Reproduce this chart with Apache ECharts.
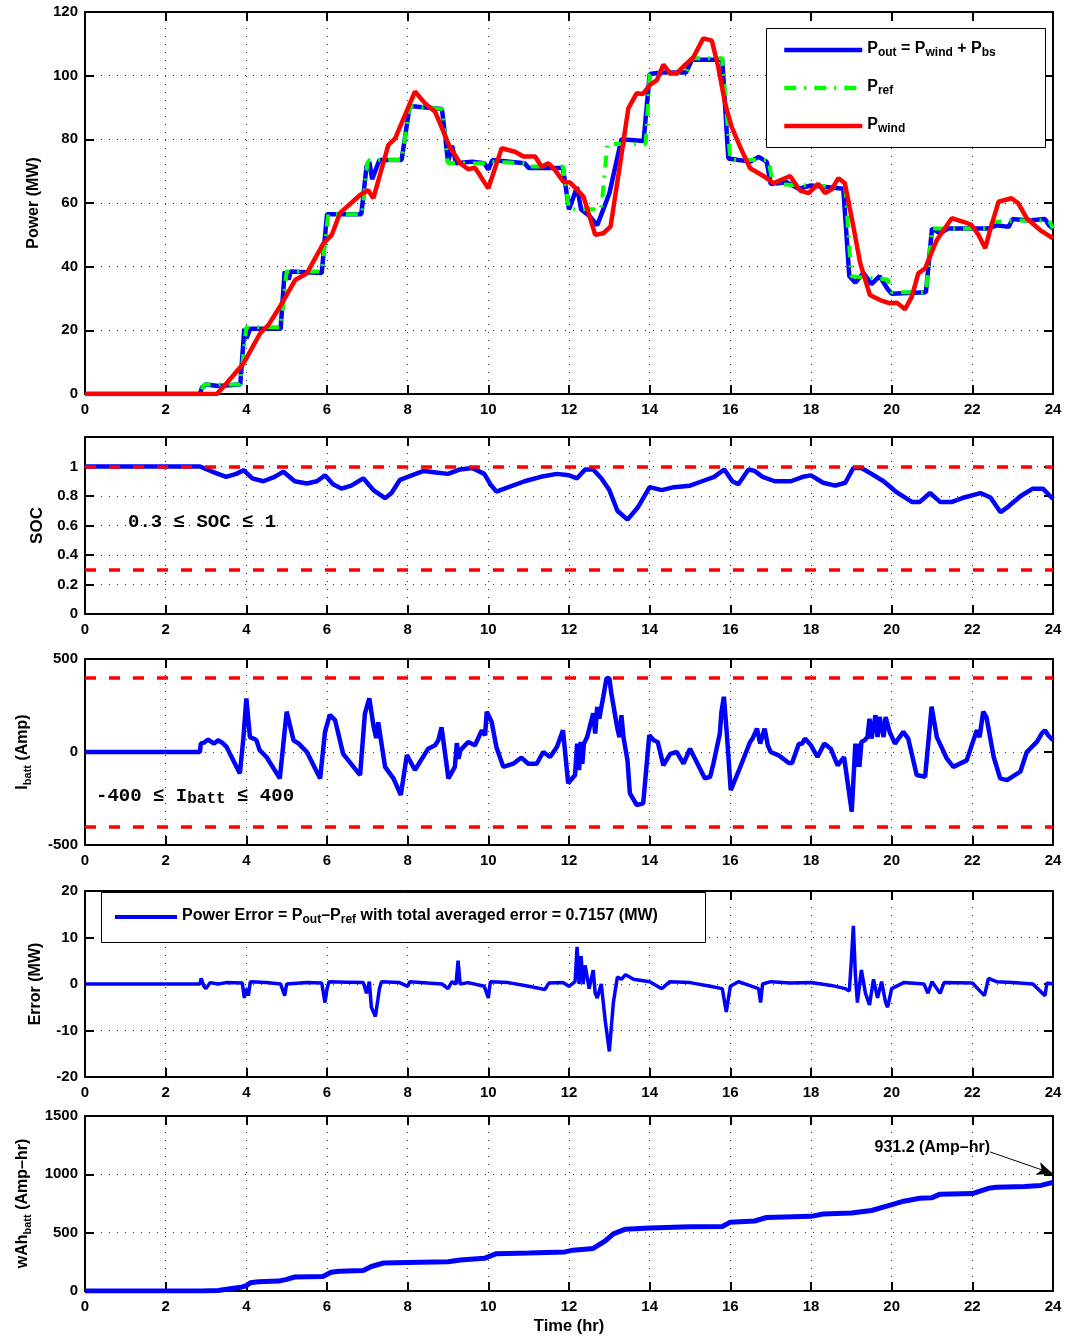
<!DOCTYPE html>
<html><head><meta charset="utf-8">
<script src="https://cdn.jsdelivr.net/npm/echarts/dist/echarts.min.js"></script>
<style>html,body{margin:0;padding:0;background:#fff}#c{width:1070px;height:1341px}</style>
</head><body><div id="c"></div><script>
// ---------------- data (hour, value) ----------------
const pRefData = [[0,0],[2.85,0],[2.95,3],[3.85,3],[4.0,21],[4.85,21],[5.0,38.5],[5.87,38.5],[6.03,56.5],[6.87,56.5],[7.0,72.5],[7.05,73.5],[7.85,73.5],[8.05,90.5],[8.85,89.5],[9.0,72.5],[10.0,72.5],[10.05,73],[10.95,72.5],[11.0,71.5],[11.85,71.5],[12.0,58],[12.8,58],[12.95,78.5],[13.9,78.5],[14.0,100.5],[14.9,101],[15.05,105.5],[15.8,105.5],[16.0,73.5],[16.95,73.5],[17.05,66],[18.85,65],[19.0,37],[19.9,36],[20.0,32],[20.85,32],[21.0,52],[22.4,52],[22.5,54],[23.2,54.5],[23.9,54.5],[24,52]];
const pOutData = [[0,0],[2.85,0],[2.9,2],[3.0,3],[3.3,2.5],[3.85,3],[3.95,20.5],[4.0,17.5],[4.1,20.5],[4.85,20.5],[4.95,38.5],[5.05,36],[5.1,38.5],[5.87,38],[6.0,56.5],[6.85,56.5],[6.98,71.5],[7.05,73],[7.12,67.5],[7.3,73.5],[7.85,73.5],[8.05,90.5],[8.85,89.5],[9.0,73],[9.1,78],[9.2,72.5],[9.6,73],[9.9,72.5],[10.0,70.5],[10.1,73.5],[10.9,72.5],[11.0,71],[11.85,71],[12.0,58],[12.2,65],[12.3,58],[12.5,56],[12.7,53],[12.85,58],[13.0,63],[13.3,80],[13.85,79.5],[14.0,100.5],[14.3,101],[14.9,101],[15.05,105],[15.8,105],[15.95,74],[16.2,73.5],[16.5,73],[16.7,74.5],[16.9,73],[17.0,66],[17.4,66.5],[17.7,64.5],[18.0,65.5],[18.8,64.5],[18.95,37],[19.1,35],[19.3,38],[19.5,34.5],[19.7,37],[19.9,33],[20.0,31.5],[20.85,32],[21.0,52],[21.2,50.5],[21.4,52],[22.4,52],[22.6,53],[22.9,52.5],[23.0,55],[23.4,54.5],[23.8,55],[23.9,53],[24,52]];
const pWindData = [[0,0],[3.27,0],[3.51,3.4],[3.93,9.6],[4.34,19],[4.55,21.7],[4.83,27.4],[5.21,35.8],[5.5,37.9],[5.91,47.3],[6.12,50],[6.32,56.8],[6.82,62.5],[7.02,64],[7.15,61.5],[7.52,78.2],[7.69,80.3],[8.18,95],[8.43,91.3],[8.68,88.7],[9.03,78],[9.3,72.5],[9.5,70.6],[9.67,71.1],[10.0,64.6],[10.33,77.2],[10.66,76.1],[10.87,74.6],[11.16,74.6],[11.32,71.4],[11.49,72.5],[11.65,70.4],[11.86,66.7],[12.03,66.4],[12.36,62],[12.65,50],[12.85,50.5],[13.03,52.6],[13.27,72.5],[13.47,89.7],[13.68,94.5],[13.83,94.2],[14.01,97.1],[14.18,98.6],[14.34,103.5],[14.51,100.7],[14.67,100.7],[14.88,103.4],[15.08,105.7],[15.33,111.7],[15.54,111],[15.7,102.8],[15.87,91.3],[16.03,84],[16.24,77.7],[16.49,70.9],[16.82,68.5],[17.07,66.2],[17.48,68.5],[17.73,63.9],[17.94,63.1],[18.18,66],[18.35,63.1],[18.51,64.3],[18.68,67.8],[18.84,66.2],[19.05,52.6],[19.22,41.1],[19.46,31.1],[19.71,29.5],[19.96,28.5],[20.13,28.7],[20.33,26.6],[20.5,30.6],[20.66,37.9],[20.83,39.5],[21.12,48.4],[21.49,55.2],[21.78,54.1],[21.98,53.1],[22.15,50],[22.32,45.8],[22.44,51.5],[22.65,60.4],[22.97,61.5],[23.14,59.9],[23.35,55.2],[23.68,51.5],[24,48.9]];
const socData = [[0,1],[2.85,1],[3.2,0.96],[3.5,0.93],[3.75,0.95],[3.93,0.975],[4.15,0.92],[4.42,0.9],[4.7,0.93],[4.92,0.965],[5.2,0.9],[5.5,0.885],[5.75,0.9],[5.95,0.94],[6.15,0.88],[6.36,0.85],[6.6,0.87],[6.9,0.92],[7.15,0.84],[7.44,0.785],[7.6,0.82],[7.81,0.91],[8.1,0.94],[8.4,0.97],[8.7,0.96],[9.0,0.95],[9.3,0.98],[9.6,0.99],[9.9,0.95],[10.05,0.88],[10.2,0.83],[10.5,0.86],[10.9,0.9],[11.3,0.93],[11.7,0.95],[12.0,0.94],[12.2,0.92],[12.4,0.98],[12.6,0.98],[12.8,0.92],[13.0,0.84],[13.2,0.7],[13.45,0.64],[13.7,0.72],[14.0,0.86],[14.3,0.84],[14.6,0.86],[15.0,0.87],[15.3,0.9],[15.6,0.93],[15.85,0.98],[16.05,0.9],[16.2,0.88],[16.45,0.98],[16.6,0.97],[16.8,0.93],[17.1,0.9],[17.5,0.9],[17.8,0.93],[18.0,0.94],[18.3,0.89],[18.6,0.87],[18.85,0.89],[19.05,0.99],[19.25,0.99],[19.5,0.95],[19.8,0.9],[20.1,0.83],[20.5,0.76],[20.7,0.76],[20.95,0.82],[21.2,0.76],[21.5,0.76],[21.8,0.79],[22.2,0.82],[22.45,0.79],[22.7,0.69],[22.9,0.73],[23.2,0.8],[23.5,0.85],[23.75,0.85],[24,0.78]];
const socLimits = [0.3, 1];
const iBattData = [[0,0],[2.85,0],[2.87,45],[2.95,50],[3.05,67],[3.2,45],[3.3,63],[3.4,50],[3.51,27],[3.84,-115],[3.93,80],[4.0,288],[4.09,80],[4.2,70],[4.25,63],[4.33,10],[4.5,-27],[4.83,-142],[5.0,217],[5.17,63],[5.3,45],[5.5,0],[5.83,-142],[5.95,108],[6.07,199],[6.2,172],[6.4,-10],[6.82,-124],[6.94,207],[7.05,288],[7.15,143],[7.22,75],[7.27,160],[7.44,-80],[7.65,-143],[7.83,-231],[7.98,-16],[8.18,-97],[8.51,18],[8.68,36],[8.76,63],[8.84,133],[9.01,-142],[9.17,-80],[9.22,48],[9.26,-36],[9.31,10],[9.5,54],[9.67,36],[9.84,117],[9.92,90],[9.96,217],[10.08,163],[10.2,27],[10.37,-80],[10.62,-63],[10.82,-30],[10.99,-63],[11.2,-63],[11.36,0],[11.53,-27],[11.7,27],[11.85,117],[11.98,-168],[12.15,-124],[12.2,45],[12.25,-97],[12.29,54],[12.33,-63],[12.37,45],[12.45,80],[12.6,208],[12.65,99],[12.7,243],[12.75,180],[12.85,297],[12.93,396],[13.0,396],[13.05,315],[13.2,126],[13.25,80],[13.3,198],[13.35,80],[13.45,-45],[13.51,-222],[13.68,-285],[13.84,-276],[13.99,90],[14.1,63],[14.2,54],[14.34,-72],[14.51,-10],[14.67,0],[14.84,-63],[15.0,18],[15.37,-142],[15.5,-133],[15.58,-63],[15.74,99],[15.78,217],[15.84,297],[15.91,108],[16.01,-205],[16.2,-106],[16.49,54],[16.55,72],[16.66,126],[16.74,45],[16.85,126],[16.93,36],[17.0,0],[17.2,-18],[17.45,-59],[17.53,-59],[17.7,45],[17.78,45],[17.85,72],[18.0,36],[18.16,-27],[18.33,45],[18.49,18],[18.66,-72],[18.82,-27],[19.01,-321],[19.1,45],[19.14,-80],[19.17,45],[19.2,-80],[19.25,54],[19.33,63],[19.4,80],[19.45,179],[19.5,72],[19.6,198],[19.65,80],[19.7,188],[19.8,80],[19.85,188],[19.95,108],[20.08,45],[20.29,108],[20.41,72],[20.62,-124],[20.83,-133],[20.99,244],[21.12,80],[21.37,-36],[21.53,-80],[21.86,-45],[22.11,117],[22.18,80],[22.27,217],[22.35,188],[22.53,-27],[22.69,-142],[22.86,-151],[23.19,-106],[23.35,0],[23.6,54],[23.72,99],[23.8,117],[23.88,90],[24,63]];
const iLimits = [-400, 400];
const errData = [[0,0],[2.85,0],[2.88,1.2],[2.95,-0.5],[3.0,-1],[3.1,0.3],[3.3,0],[3.5,0.3],[3.9,0.2],[3.95,-3],[4.0,-1],[4.05,-2.5],[4.1,0.5],[4.5,0.3],[4.85,0],[4.95,-2.5],[5.0,0],[5.5,0.3],[5.87,0.2],[5.95,-4],[6.0,-1],[6.05,0.5],[6.5,0.4],[6.9,0.3],[6.98,-2],[7.05,0.5],[7.1,-5],[7.2,-7],[7.3,-1],[7.35,0.5],[7.8,0.3],[8.0,-0.5],[8.05,0.5],[8.5,0.2],[8.85,0],[9.0,-1],[9.1,0.5],[9.2,0],[9.25,5],[9.3,0],[9.5,0.3],[9.9,-0.5],[10.0,-3],[10.05,0.5],[10.5,0.3],[11.0,-0.5],[11.4,-1.2],[11.5,0.2],[11.85,0.3],[12.0,-0.5],[12.15,0.5],[12.2,8],[12.25,0],[12.3,6],[12.35,0],[12.4,4],[12.5,-1],[12.6,3],[12.65,-2],[12.7,-3],[12.8,0],[12.9,-8],[13.0,-14.5],[13.1,-4],[13.2,1.5],[13.3,1],[13.4,2],[13.6,1],[14.0,0.5],[14.3,-1],[14.5,0.5],[15.0,0.3],[15.5,-0.5],[15.8,-1],[15.9,-6],[16.0,-0.5],[16.2,0.5],[16.7,-1],[16.75,-4],[16.8,0],[17.0,0.5],[17.5,0.2],[18.0,0.3],[18.5,-0.3],[18.85,-1],[18.95,-1.5],[19.0,5],[19.05,12.5],[19.1,2],[19.15,-4],[19.25,3],[19.35,-2],[19.45,-4.5],[19.55,1],[19.65,-3],[19.75,0.5],[19.85,-4],[19.9,-5],[20.0,-1],[20.3,0.3],[20.8,0],[20.9,-2],[21.0,0.5],[21.2,-2],[21.3,0.3],[22.0,0.2],[22.3,-2.5],[22.4,1.2],[22.6,0.5],[23.0,0.3],[23.5,0],[23.8,-2.5],[23.85,0.2],[24,0]];
const wAhData = [[0,0],[2.9,0],[3.3,5],[3.6,20],[3.9,35],[4.0,45],[4.1,70],[4.3,80],[4.8,85],[5.0,100],[5.2,120],[5.9,125],[6.1,160],[6.3,170],[6.9,175],[7.1,210],[7.4,240],[8.0,245],[9.0,250],[9.3,265],[9.9,280],[10.2,320],[11.0,325],[11.9,335],[12.1,350],[12.6,365],[12.9,430],[13.1,490],[13.4,530],[14.0,540],[15.0,550],[15.8,553],[16.0,590],[16.6,600],[16.9,630],[18.0,640],[18.3,660],[19.0,668],[19.5,690],[19.9,730],[20.3,770],[20.7,795],[21.0,800],[21.2,830],[22.0,835],[22.4,880],[22.6,890],[23.3,895],[23.7,905],[24,931.2]];
const wAhFinal = 931.2;
const avgError = 0.7157;
const hourTicks = {min: 0, max: 24, interval: 2};
const yScales = [
  {min: 0, max: 120, interval: 20},
  {min: 0, max: 1.2, interval: 0.2},
  {min: -500, max: 500, interval: 500},
  {min: -20, max: 20, interval: 10},
  {min: 0, max: 1500, interval: 500}
];

// ---------------- layout ----------------
const FONT = '"Liberation Sans", Arial, sans-serif';
const MONO = '"Liberation Mono", "DejaVu Sans Mono", monospace';
const grids = [
  {left: 85, right: 17, top: 12, height: 382},
  {left: 85, right: 17, top: 437, height: 177},
  {left: 85, right: 17, top: 659, height: 186},
  {left: 85, right: 17, top: 891, height: 186},
  {left: 85, right: 17, top: 1116, height: 175}
];
const subRich = {
  m: {fontFamily: FONT, fontWeight: 'bold', fontSize: 16, color: '#000', lineHeight: 18, verticalAlign: 'top'},
  s: {fontFamily: FONT, fontWeight: 'bold', fontSize: 11, color: '#000', lineHeight: 11, padding: [12, 0, 0, 0], verticalAlign: 'bottom'}
};
const yNames = [
  {name: 'Power (MW)', gap: 41},
  {name: 'SOC', gap: 38},
  {name: '{m|I}{s|batt}{m| (Amp)}', gap: 52},
  {name: 'Error (MW)', gap: 41},
  {name: '{m|wAh}{s|batt}{m| (Amp\u2013hr)}', gap: 52}
];

const xAxes = [], yAxes = [];
grids.forEach((g, i) => {
  const axLine = {show: true, onZero: false, lineStyle: {color: '#000', width: 2}};
  const tick = {show: true, inside: true, length: 9, lineStyle: {color: '#000', width: 2}};
  const split = {show: true, lineStyle: {color: '#333', type: [1, 7], width: 1}};
  const lbl = {color: '#000', fontFamily: FONT, fontWeight: 'bold', fontSize: 15, formatter: v => String(v)};
  xAxes.push(Object.assign({type: 'value', gridIndex: i, position: 'bottom', axisLine: axLine, axisTick: tick,
    axisLabel: Object.assign({margin: 8, showMinLabel: true, showMaxLabel: true}, lbl), splitLine: split},
    hourTicks, i === 4 ? {name: 'Time (hr)', nameLocation: 'middle', nameGap: 27,
      nameTextStyle: {fontFamily: FONT, fontWeight: 'bold', fontSize: 16.5, color: '#000'}} : {}));
  xAxes.push(Object.assign({type: 'value', gridIndex: i, position: 'top', axisLine: axLine, axisTick: tick,
    axisLabel: {show: false}, splitLine: {show: false}}, hourTicks));
  yAxes.push(Object.assign({type: 'value', gridIndex: i, position: 'left', axisLine: axLine, axisTick: tick,
    axisLabel: Object.assign({margin: 7, showMaxLabel: i !== 1}, lbl), splitLine: split,
    name: yNames[i].name, nameLocation: 'middle', nameRotate: 90, nameGap: yNames[i].gap,
    nameTextStyle: {fontFamily: FONT, fontWeight: 'bold', fontSize: i === 1 ? 17 : 16, color: '#000', rich: subRich}}, yScales[i]));
  yAxes.push(Object.assign({type: 'value', gridIndex: i, position: 'right', axisLine: axLine, axisTick: tick,
    axisLabel: {show: false}, splitLine: {show: false}}, yScales[i]));
});

const limitLine = (vals) => ({
  silent: true, symbol: 'none', label: {show: false},
  lineStyle: {color: '#ff0000', width: 3.5, type: [11, 13]},
  data: vals.map(v => ({yAxis: v}))
});

const line = (name, gi, data, color, width, extra) => Object.assign({
  name: name, type: 'line', xAxisIndex: gi * 2, yAxisIndex: gi * 2, data: data,
  symbol: 'none', showSymbol: false, animation: false,
  lineStyle: {color: color, width: width}, itemStyle: {color: color}
}, extra || {});

const series = [
  line('Pout', 0, pOutData, '#0000ff', 4.5, {z: 2}),
  line('Pref', 0, pRefData, '#00ff00', 4, {z: 3, lineStyle: {color: '#00ff00', width: 4, type: [12, 8, 2, 8]}}),
  line('Pwind', 0, pWindData, '#ff0000', 4.5, {z: 4}),
  line('SOC', 1, socData, '#0000ff', 4.5, {markLine: limitLine(socLimits)}),
  line('Ibatt', 2, iBattData, '#0000ff', 4.5, {markLine: limitLine(iLimits)}),
  line('Power Error', 3, errData, '#0000ff', 3.5),
  line('wAh', 4, wAhData, '#0000ff', 5, {
    markLine: {silent: true, symbol: ['none', 'arrow'], symbolSize: [10, 16], label: {show: false},
      lineStyle: {color: '#000', width: 1, type: 'solid'},
      data: [[{coord: [22.44, 1192]}, {coord: [24, 1005]}]]},
    markPoint: {silent: true, symbol: 'circle', symbolSize: 0,
      data: [{coord: [22.44, 1226], label: {show: true, position: 'left', distance: 0,
        formatter: wAhFinal.toFixed(1) + ' (Amp\u2013hr)', fontFamily: FONT, fontWeight: 'bold', fontSize: 16, color: '#000'}}]}
  })
];

const legRich = {
  m: {fontFamily: FONT, fontWeight: 'bold', fontSize: 16, color: '#000', lineHeight: 18, verticalAlign: 'top'},
  s: {fontFamily: FONT, fontWeight: 'bold', fontSize: 12, color: '#000', lineHeight: 12, padding: [13, 0, 0, 0], verticalAlign: 'bottom'}
};
const legRich2 = {
  m: {fontFamily: FONT, fontWeight: 'bold', fontSize: 16, color: '#000', lineHeight: 18, verticalAlign: 'top'},
  s: {fontFamily: FONT, fontWeight: 'bold', fontSize: 12, color: '#000', lineHeight: 12, padding: [12, 0, 0, 0], verticalAlign: 'bottom'}
};
const legendNames = {
  Pout: '{m|P}{s|out}{m| = P}{s|wind}{m| + P}{s|bs}',
  Pref: '{m|P}{s|ref}',
  Pwind: '{m|P}{s|wind}'
};
const hiddenSymbol = {color: 'rgba(0,0,0,0)', borderColor: 'rgba(0,0,0,0)', borderWidth: 0, opacity: 0};

const option = {
  backgroundColor: '#fff',
  animation: false,
  grid: grids,
  xAxis: xAxes,
  yAxis: yAxes,
  series: series,
  legend: [
    {data: ['Pout', 'Pref', 'Pwind'], orient: 'vertical', left: 782, top: 34, padding: 0, itemWidth: 78, itemHeight: 14,
      itemGap: 13, selectedMode: false, z: 10, formatter: n => legendNames[n],
      textStyle: {rich: legRich}, lineStyle: {width: 4.5}, itemStyle: hiddenSymbol},
    {data: ['Power Error'], orient: 'horizontal', left: 113, top: 902, padding: 0, itemWidth: 62, itemHeight: 14,
      selectedMode: false, z: 10,
      formatter: () => '{m|Power Error = P}{s|out}{m|\u2013P}{s|ref}{m| with total averaged error = ' + avgError + ' (MW)}',
      textStyle: {rich: legRich2}, lineStyle: {width: 4}, itemStyle: hiddenSymbol}
  ],
  graphic: [
    {type: 'rect', left: 766, top: 28, z: 8, shape: {width: 279, height: 119}, style: {fill: '#fff', stroke: '#000', lineWidth: 1}},
    {type: 'rect', left: 101, top: 892, z: 8, shape: {width: 604, height: 50}, style: {fill: '#fff', stroke: '#000', lineWidth: 1}},
    {type: 'text', left: 128, top: 513, z: 9, style: {text: '0.3 \u2264 SOC \u2264 1', font: 'bold 19px ' + MONO, fill: '#000'}},
    {type: 'text', left: 96, top: 779, z: 9, style: {
      text: '{m|-400 \u2264 I}{s|batt}{m| \u2264 400}',
      rich: {
        m: {fontFamily: MONO, fontWeight: 'bold', fontSize: 19, fill: '#000', lineHeight: 20, verticalAlign: 'top'},
        s: {fontFamily: MONO, fontWeight: 'bold', fontSize: 16, fill: '#000', lineHeight: 16, padding: [12, 0, 0, 0], verticalAlign: 'bottom'}
      }}}
  ]
};

const chart = echarts.init(document.getElementById('c'), null, {renderer: 'canvas'});
chart.setOption(option);
</script></body></html>
